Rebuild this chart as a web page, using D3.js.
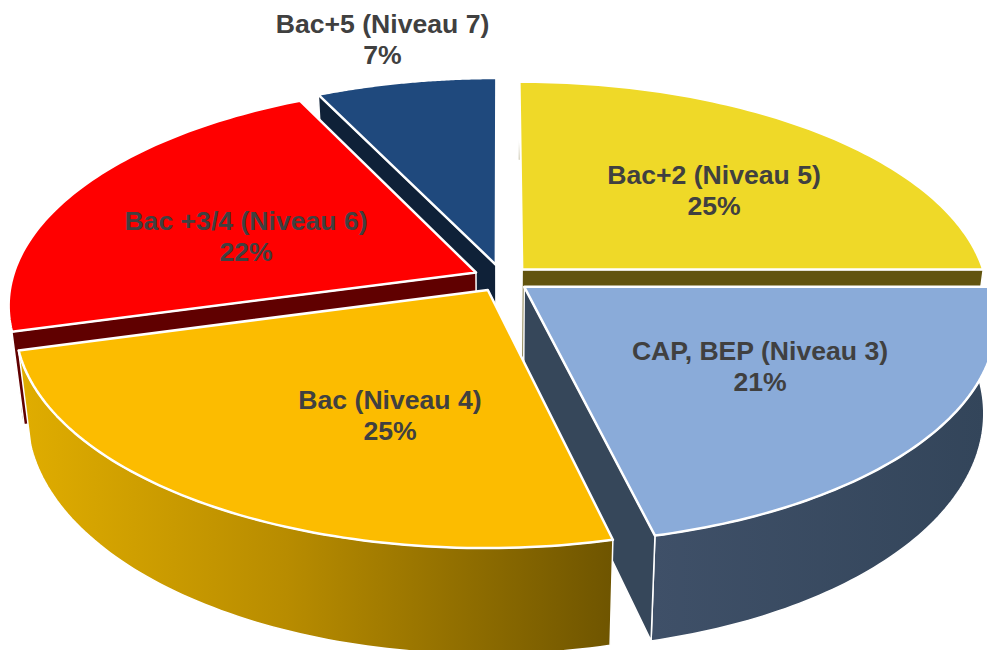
<!DOCTYPE html>
<html>
<head>
<meta charset="utf-8">
<script src="https://cdn.jsdelivr.net/npm/d3@7"></script>
<style>
  html, body { margin: 0; padding: 0; background: #fff; overflow: hidden; }
  svg { display: block; }
  text { font-family: "Liberation Sans", Arial, sans-serif; font-weight: 700; font-size: 26.6px; fill: #404040; }
</style>
</head>
<body>
<svg id="chart" width="987" height="650"></svg>
<script>
// exploded 3D pie, faked with a perspective mapping of the pie plane
const categories = ['Bac+2 (Niveau 5)', 'CAP, BEP (Niveau 3)', 'Bac (Niveau 4)', 'Bac +3/4 (Niveau 6)', 'Bac+5 (Niveau 7)'];
const shares = [25, 21.25, 24.5, 22.05, 7.2];   // labels show these rounded

const topColors  = ['#efd928', '#8aabd9', '#fcbc00', '#ff0000', '#1f497d'];
const wallColors = ['#62540f', '#36475a', '#7a5c00', '#600000', '#0f2138'];
// how far each slice is pulled out, in pie radii
const explodeU = [0.048, 0.052, -0.026, -0.052, -0.009];
const explodeV = [-0.044, 0.036, 0.05, -0.03, -0.066];
const labelX = [714, 760, 390, 246, 382.5];
const labelY = [184, 360, 409, 230, 33];

const CX = 500, CY = 279;       // screen position of the pie centre
const RX = 464, RY = 217.5;     // radius in the pie plane, screen units
const DIST = 6.94;              // camera distance, in radii
const DEPTH = 90;               // thickness of the pie
const SHRINK = 0.025;           // bottom face is a bit narrower

const svg = d3.select('#chart');
const defs = svg.append('defs');

function project(u, v, z) {
    const s = DIST / (DIST - v);
    return [CX + u * s * RX * (1 - SHRINK * z), CY + (v * RY + z * DEPTH) * s];
}

const pie = d3.pie().sort(null);
const arcs = pie(shares);
const line = d3.line().curve(d3.curveLinear);

// draw order: back slices first
const order = [4, 0, 3, 1, 2];

// wall gradients for the two slices with a large outer wall
const grad = [
    { id: 'wall-orange', x1: 20, x2: 612, stops: [['0%', '#e0ad00'], ['45%', '#b88c00'], ['100%', '#6f5500']] },
    { id: 'wall-blue', x1: 652, x2: 987, stops: [['0%', '#3f5068'], ['100%', '#33455a']] },
];
grad.forEach(g => {
    const lg = defs.append('linearGradient').attr('id', g.id)
        .attr('gradientUnits', 'userSpaceOnUse')
        .attr('x1', g.x1).attr('x2', g.x2).attr('y1', 0).attr('y2', 0);
    g.stops.forEach(s => lg.append('stop').attr('offset', s[0]).attr('stop-color', s[1]));
});
const hasGradient = i => i === 1 || i === 2;
const outerFill = i => i === 2 ? 'url(#wall-orange)' : i === 1 ? 'url(#wall-blue)' : wallColors[i];

const g = svg.append('g');

order.forEach(i => {
    const a = arcs[i];
    const ox = explodeU[i], oy = explodeV[i];

    const n = 80;
    const angles = d3.range(n + 1).map(k => a.startAngle + (a.endAngle - a.startAngle) * k / n);
    const rim = z => angles.map(t => project(ox + Math.sin(t), oy - Math.cos(t), z));
    const apex = z => project(ox, oy, z);
    const topRim = rim(0), botRim = rim(1);

    const sg = g.append('g').attr('class', 'slice');

    // outer wall
    sg.append('path')
        .attr('d', line(topRim.concat(botRim.slice().reverse())) + 'Z')
        .attr('fill', outerFill(i))
        .attr('stroke', hasGradient(i) ? '#fff' : 'none')
        .attr('stroke-width', 1.5).attr('stroke-linejoin', 'round');

    // radial walls, only those facing the viewer
    const edges = [];
    if (Math.sin(a.startAngle) < -1e-6) edges.push([topRim[0], botRim[0]]);
    if (Math.sin(a.endAngle) > 1e-6) edges.push([topRim[n], botRim[n]]);
    edges.forEach(([p0, p1]) => {
        sg.append('path')
            .attr('d', line([apex(0), p0, p1, apex(1)]) + 'Z')
            .attr('fill', wallColors[i])
            .attr('stroke', '#fff').attr('stroke-width', 1.5).attr('stroke-linejoin', 'round');
    });

    // top face
    sg.append('path')
        .attr('d', line([apex(0)].concat(topRim)) + 'Z')
        .attr('fill', topColors[i])
        .attr('stroke', '#fff').attr('stroke-width', 2.5).attr('stroke-linejoin', 'round');
});

// labels
const labels = svg.append('g').attr('text-anchor', 'middle');
categories.forEach((c, i) => {
    const t = labels.append('text').attr('x', labelX[i]).attr('y', labelY[i]);
    t.append('tspan').attr('x', labelX[i]).text(c);
    t.append('tspan').attr('x', labelX[i]).attr('dy', 30.5).text(Math.round(shares[i]) + '%');
});
</script>
</body>
</html>
